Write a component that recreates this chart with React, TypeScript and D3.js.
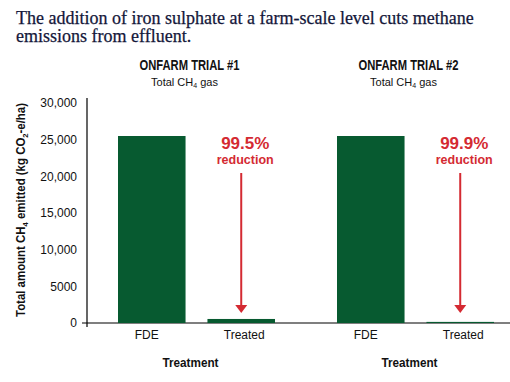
import React from "react";
import * as d3 from "d3";

const titleLines = [
  "The addition of iron sulphate at a farm-scale level cuts methane",
  "emissions from effluent.",
];
const trials = ["ONFARM TRIAL #1", "ONFARM TRIAL #2"];
const subtitle = "Total CH";
const treatments = ["FDE", "Treated"];
const trial1Values = [25500, 550];
const trial2Values = [25500, 150];
const reductions = ["99.5%", "99.9%"];
const yTicks = [0, 5000, 10000, 15000, 20000, 25000, 30000];
const xAxisTitle = "Treatment";

const W = 510;
const H = 382;
const GREEN = "#075a30";
const RED = "#d42a32";
const NAVY = "#14173a";
const SANS = "'Liberation Sans', Arial, sans-serif";
const SERIF = "'Liberation Serif', 'Times New Roman', serif";

export default function App() {
  const series = [trial1Values, trial2Values];
  const y = d3.scaleLinear().domain([0, 30000]).range([323, 103]);
  const outer = d3
    .scaleBand<string>()
    .domain(trials)
    .range([98, 514])
    .paddingInner(62 / 219)
    .paddingOuter(20 / 219);
  const inner = d3
    .scaleBand<string>()
    .domain(treatments)
    .range([0, outer.bandwidth()])
    .paddingInner(0.245)
    .paddingOuter(0);
  const fmt = (v: number) => (v >= 10000 ? d3.format(",")(v) : String(v));
  const axisX = 87;
  const labelDx: Record<string, number> = { FDE: -5, Treated: 3 };

  return (
    <svg
      width={W}
      height={H}
      style={{ position: "absolute", left: 0, top: 0, background: "#fff" }}
    >
      {/* Title */}
      {titleLines.map((line, i) => (
        <text
          key={i}
          x={16}
          y={24 + i * 18}
          fontFamily={SERIF}
          fontSize={18}
          fill={NAVY}
          stroke={NAVY}
          strokeWidth={0.25}
        >
          {line}
        </text>
      ))}

      {/* Y axis */}
      <line x1={axisX} x2={axisX} y1={98} y2={327} stroke="#000" strokeWidth={1.2} />
      {yTicks.map((t) => (
        <text
          key={t}
          x={77}
          y={y(t)}
          dy="0.35em"
          textAnchor="end"
          fontFamily={SANS}
          fontSize={12}
          fill="#111"
        >
          {fmt(t)}
        </text>
      ))}
      <line x1={82} x2={W} y1={y(0)} y2={y(0)} stroke="#000" strokeWidth={1.2} />
      <text
        transform={`translate(25,210) rotate(-90)`}
        textAnchor="middle"
        fontFamily={SANS}
        fontWeight="bold"
        fontSize={12}
        fill="#111"
        textLength={214}
        lengthAdjust="spacingAndGlyphs"
      >
        Total amount CH
        <tspan fontSize={8} dy={3}>4</tspan>
        <tspan dy={-3}> emitted (kg CO</tspan>
        <tspan fontSize={8} dy={3}>2</tspan>
        <tspan dy={-3}>-e/ha)</tspan>
      </text>

      {trials.map((trial, ti) => {
        const gx = outer(trial)!;
        const vals = series[ti];
        const center = gx + outer.bandwidth() / 2;
        const tx = gx + inner("Treated")! + inner.bandwidth() / 2;
        return (
          <g key={trial}>
            <text
              x={center - 7}
              y={69.5}
              textAnchor="middle"
              fontFamily={SANS}
              fontWeight="bold"
              fontSize={15}
              fill="#111"
              textLength={100}
              lengthAdjust="spacingAndGlyphs"
            >
              {trial}
            </text>
            <text
              x={center - 12}
              y={86}
              textAnchor="middle"
              fontFamily={SANS}
              fontSize={11}
              fill="#111"
            >
              {subtitle}
              <tspan fontSize={7} dy={2}>4</tspan>
              <tspan dy={-2}> gas</tspan>
            </text>
            {treatments.map((tr, i) => (
              <g key={tr}>
                <rect
                  x={gx + inner(tr)!}
                  y={y(vals[i])}
                  width={inner.bandwidth()}
                  height={y(0) - y(vals[i])}
                  fill={GREEN}
                />
                <text
                  x={gx + inner(tr)! + inner.bandwidth() / 2 + labelDx[tr]}
                  y={339}
                  textAnchor="middle"
                  fontFamily={SANS}
                  fontSize={12}
                  fill="#111"
                >
                  {tr}
                </text>
              </g>
            ))}
            <text
              x={center - 6}
              y={367}
              textAnchor="middle"
              fontFamily={SANS}
              fontWeight="bold"
              fontSize={13}
              fill="#111"
              textLength={56}
              lengthAdjust="spacingAndGlyphs"
            >
              {xAxisTitle}
            </text>
            {/* reduction annotation */}
            <text
              x={tx + 4}
              y={149}
              textAnchor="middle"
              fontFamily={SANS}
              fontWeight="bold"
              fontSize={17}
              fill={RED}
            >
              {reductions[ti]}
            </text>
            <text
              x={tx + 4}
              y={164}
              textAnchor="middle"
              fontFamily={SANS}
              fontWeight="bold"
              fontSize={12.5}
              fill={RED}
            >
              reduction
            </text>
            <line x1={tx} x2={tx} y1={173} y2={306} stroke={RED} strokeWidth={2} />
            <path
              d={`M${tx - 6},305 L${tx + 6},305 L${tx},313 Z`}
              fill={RED}
            />
          </g>
        );
      })}
    </svg>
  );
}
